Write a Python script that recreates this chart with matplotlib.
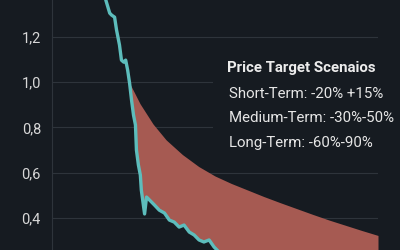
import numpy as np
import matplotlib
matplotlib.use("Agg")
import matplotlib.pyplot as plt
from matplotlib.patches import Rectangle

# price path (time index, price)
price_t = [16.5, 17.7, 18.3, 19.2, 19.8, 20.7, 21.3, 22.0, 22.6, 23.2, 23.8, 24.4,
           25.0, 25.6, 25.9, 26.5, 27.1, 27.4, 28.4, 29.0, 29.9, 31.4, 32.9, 34.5,
           36.0, 37.5, 39.0, 40.5, 42.1, 43.6, 45.1, 46.6, 48.2, 49.7, 51.2, 52.7]
price_v = [1.364, 1.306, 1.297, 1.288, 1.231, 1.165, 1.098, 1.089, 1.098, 1.054, 0.996, 0.921,
           0.855, 0.811, 0.700, 0.634, 0.589, 0.523, 0.417, 0.492, 0.479, 0.457, 0.434, 0.421,
           0.390, 0.381, 0.359, 0.368, 0.337, 0.324, 0.302, 0.293, 0.302, 0.271, 0.249, 0.222]

# upper scenario band
band_t = [23.8, 27, 31, 35, 40, 45, 50, 55, 60, 65, 70, 75, 80, 85, 90, 95, 100]
band_hi = [0.996, 0.905, 0.815, 0.745, 0.68, 0.627, 0.585, 0.552, 0.523, 0.494, 0.467,
           0.441, 0.415, 0.39, 0.367, 0.344, 0.322]

yticks = [0.4, 0.6, 0.8, 1.0, 1.2]
ytick_labels = ["0,4", "0,6", "0,8", "1,0", "1,2"]

title = "Price Target Scenaios"
scenarios = ["Short-Term: -20% +15%", "Medium-Term: -30%-50%", "Long-Term: -60%-90%"]

bg = "#161b21"
plt.rcParams['font.family'] = ['Roboto', 'DejaVu Sans']

fig = plt.figure(figsize=(4, 2.5), dpi=100, facecolor=bg)
ax = fig.add_axes([52/400, 0, 326/400, 1])
ax.set_facecolor(bg)

# fill between price and upper band
tt = np.linspace(band_t[0], band_t[-1], 400)
hi = np.interp(tt, band_t, band_hi)
lo = np.interp(tt, price_t, price_v, right=0.0)
ax.fill_between(tt, lo, hi, color="#a65a52", lw=0, zorder=2)

ax.plot(price_t, price_v, color="#5dbdbc", lw=2.4, zorder=3, solid_capstyle="round")

ax.set_xlim(0, 100)
ax.set_ylim(0.2575, 1.364)
ax.set_yticks(yticks)
ax.set_yticklabels(ytick_labels)
ax.set_xticks([])
ax.tick_params(axis="y", length=0, pad=8, labelsize=10.5, labelcolor="#d8d8d8")
ax.grid(axis="y", color="#2e343b", lw=0.8, zorder=1)
for s in ["top", "right", "bottom"]:
    ax.spines[s].set_visible(False)
ax.spines["left"].set_color("#2e343b")
ax.spines["left"].set_linewidth(0.8)

# dark panel behind the text
fig.patches.append(Rectangle((213/400, 1 - 157/250), 190/400, 105/250,
                             transform=fig.transFigure, facecolor=bg, edgecolor="none", zorder=5))

fig.text(227/400, 1 - 68/250, title, color="#ececec", fontsize=10.8, fontweight="bold",
         ha="left", va="center", zorder=6)
for i, s in enumerate(scenarios):
    fig.text(229/400, 1 - (94 + 24.5*i)/250, s, color="#e6e6e6", fontsize=10.8,
             ha="left", va="center", zorder=6)

fig.savefig("out.png", dpi=100, facecolor=bg)
